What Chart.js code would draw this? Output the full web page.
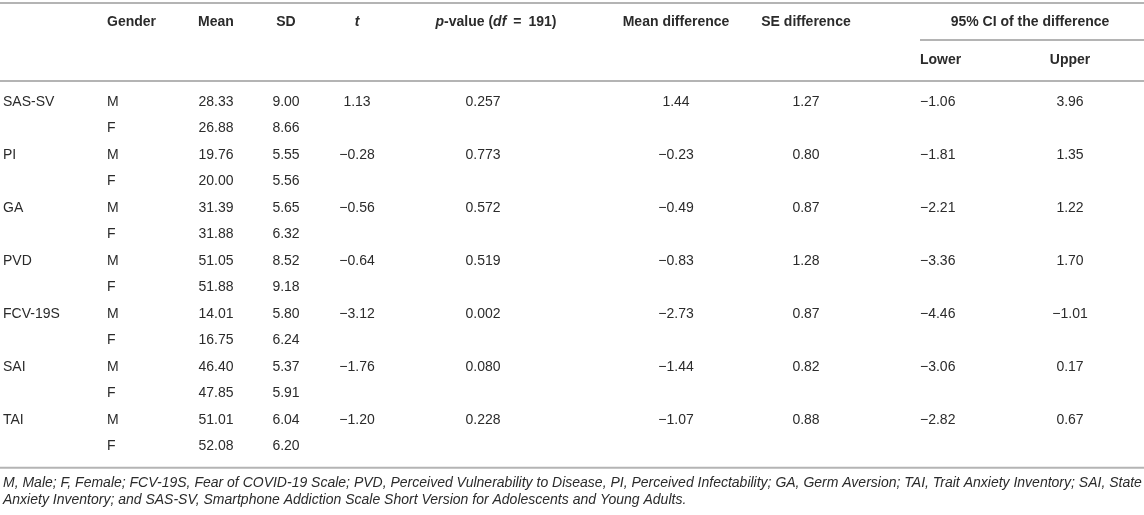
<!DOCTYPE html>
<html>
<head>
<meta charset="utf-8">
<script src="https://cdn.jsdelivr.net/npm/chart.js@4.4.1/dist/chart.umd.min.js"></script>
<style>
  html, body { margin: 0; padding: 0; background: #fff; }
  #wrap { width: 1144px; height: 515px; }
</style>
</head>
<body>
<div id="wrap"><canvas id="tbl" width="1144" height="515"></canvas></div>
<script>
// table values
const scaleNames = ['SAS-SV', 'PI', 'GA', 'PVD', 'FCV-19S', 'SAI', 'TAI']
const genders = ['M', 'F']
const meanM = [28.33, 19.76, 31.39, 51.05, 14.01, 46.40, 51.01]
const meanF = [26.88, 20.00, 31.88, 51.88, 16.75, 47.85, 52.08]
const sdM = [9.00, 5.55, 5.65, 8.52, 5.80, 5.37, 6.04]
const sdF = [8.66, 5.56, 6.32, 9.18, 6.24, 5.91, 6.20]
const tValue = [1.13, -0.28, -0.56, -0.64, -3.12, -1.76, -1.20]
const pValue = [0.257, 0.773, 0.572, 0.519, 0.002, 0.080, 0.228]
const meanDiff = [1.44, -0.23, -0.49, -0.83, -2.73, -1.44, -1.07]
const seDiff = [1.27, 0.80, 0.87, 1.28, 0.87, 0.82, 0.88]
const ciLower = [-1.06, -1.81, -2.21, -3.36, -4.46, -3.06, -2.82]
const ciUpper = [3.96, 1.35, 1.22, 1.70, -1.01, 0.17, 0.67]
const footnote = [
    'M, Male; F, Female; FCV-19S, Fear of COVID-19 Scale; PVD, Perceived Vulnerability to Disease, PI, Perceived Infectability; GA, Germ Aversion; TAI, Trait Anxiety Inventory; SAI, State',
    'Anxiety Inventory; and SAS-SV, Smartphone Addiction Scale Short Version for Adolescents and Young Adults.'
]

// layout (page units = pixels of the 1144x515 picture)
const W = 1144, H = 515
const topRule = 3, headY = 22, ciRule = 40, subHeadY = 60, headRule = 81
const firstRow = 102, rowStep = 26.5
const footGap = 15, footStep = 17
const ciRuleStart = 920
// column anchors: [x, align]
const col = {
    name: [3, 'left'], gender: [107, 'left'], mean: [216, 'center'], sd: [286, 'center'],
    t: [357, 'center'], p: [483, 'center'], md: [676, 'center'], se: [806, 'center'],
    lower: [920, 'left'], upper: [1070, 'center']
}
const textColor = '#2b2b2b'
const ruleColor = '#b4b4b4'
const bodyFont = '14px "Liberation Sans", Arial, sans-serif'
const boldFont = 'bold 14px "Liberation Sans", Arial, sans-serif'
const boldItalFont = 'italic bold 14px "Liberation Sans", Arial, sans-serif'
const footFont = 'italic 14px "Liberation Sans", Arial, sans-serif'

const nRows = scaleNames.length * genders.length
const rowY = i => firstRow + i * rowStep
const bottomRule = rowY(nRows - 1) + rowStep * 0.8

const fmt = (v, d) => (v < 0 ? '\u2212' : '') + Math.abs(v).toFixed(d)

// body cells built from the arrays
const cells = []
scaleNames.forEach((name, k) => {
    const rM = 2 * k, rF = 2 * k + 1
    cells.push([col.name, rM, name])
    cells.push([col.gender, rM, genders[0]])
    cells.push([col.gender, rF, genders[1]])
    cells.push([col.mean, rM, meanM[k].toFixed(2)])
    cells.push([col.mean, rF, meanF[k].toFixed(2)])
    cells.push([col.sd, rM, sdM[k].toFixed(2)])
    cells.push([col.sd, rF, sdF[k].toFixed(2)])
    cells.push([col.t, rM, fmt(tValue[k], 2)])
    cells.push([col.p, rM, fmt(pValue[k], 3)])
    cells.push([col.md, rM, fmt(meanDiff[k], 2)])
    cells.push([col.se, rM, fmt(seDiff[k], 2)])
    cells.push([col.lower, rM, fmt(ciLower[k], 2)])
    cells.push([col.upper, rM, fmt(ciUpper[k], 2)])
})

// header: runs of [text, font]
const header = [
    [107, 'left', headY, [['Gender', boldFont]]],
    [216, 'center', headY, [['Mean', boldFont]]],
    [286, 'center', headY, [['SD', boldFont]]],
    [357, 'center', headY, [['t', boldItalFont]]],
    [496, 'center', headY, [['p', boldItalFont], ['-value (', boldFont], ['df', boldItalFont], ['\u2002=\u2002191)', boldFont]]],
    [676, 'center', headY, [['Mean difference', boldFont]]],
    [806, 'center', headY, [['SE difference', boldFont]]],
    [1030, 'center', headY, [['95% CI of the difference', boldFont]]],
    [920, 'left', subHeadY, [['Lower', boldFont]]],
    [1070, 'center', subHeadY, [['Upper', boldFont]]]
]

const rules = [
    [0, W, topRule], [ciRuleStart, W, ciRule], [0, W, headRule], [0, W, bottomRule]
]

const tablePlugin = {
    id: 'tablePlugin',
    afterDatasetsDraw(chart) {
        const ctx = chart.ctx
        const xs = chart.scales.x, ys = chart.scales.y
        ctx.save()
        ctx.fillStyle = textColor
        ctx.textBaseline = 'middle'

        header.forEach(([x, align, y, runs]) => {
            let total = 0
            runs.forEach(([s, f]) => { ctx.font = f; total += ctx.measureText(s).width })
            let px = xs.getPixelForValue(x)
            if (align === 'center') px -= total / 2
            ctx.textAlign = 'left'
            runs.forEach(([s, f]) => {
                ctx.font = f
                ctx.fillText(s, px, ys.getPixelForValue(y))
                px += ctx.measureText(s).width
            })
        })

        ctx.font = bodyFont
        cells.forEach(([[x, align], r, s]) => {
            ctx.textAlign = align
            ctx.fillText(s, xs.getPixelForValue(x), ys.getPixelForValue(rowY(r)))
        })

        ctx.font = footFont
        ctx.textAlign = 'left'
        footnote.forEach((s, i) => {
            ctx.fillText(s, xs.getPixelForValue(col.name[0]), ys.getPixelForValue(bottomRule + footGap + i * footStep))
        })
        ctx.restore()
    }
}

new Chart(document.getElementById('tbl'), {
    type: 'scatter',
    data: {
        datasets: rules.map(([x0, x1, y]) => ({
            data: [{x: x0, y: y}, {x: x1, y: y}],
            showLine: true,
            borderColor: ruleColor,
            borderWidth: 2,
            pointRadius: 0
        }))
    },
    options: {
        responsive: false,
        animation: false,
        layout: { padding: 0 },
        plugins: { legend: { display: false }, tooltip: { enabled: false } },
        scales: {
            x: { type: 'linear', min: 0, max: W, display: false },
            y: { type: 'linear', min: 0, max: H, reverse: true, display: false }
        }
    },
    plugins: [tablePlugin]
})
</script>
</body>
</html>
